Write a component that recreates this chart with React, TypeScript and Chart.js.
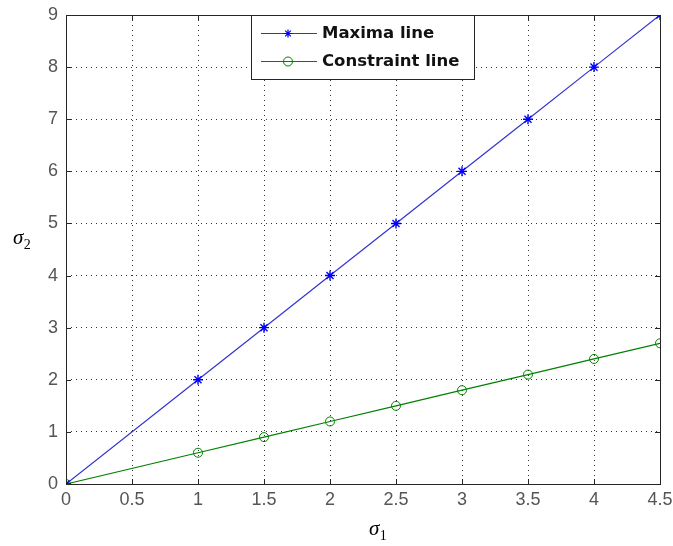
import React, { useEffect, useRef } from "react";
import { Chart, registerables } from "chart.js";

Chart.register(...registerables);

const xValues = [0, 1, 1.5, 2, 2.5, 3, 3.5, 4, 4.5];
const maximaValues = [0, 2, 3, 4, 5, 6, 7, 8, 9];
const constraintValues = [0, 0.6, 0.9, 1.2, 1.5, 1.8, 2.1, 2.4, 2.7];
const legendLabels = ["Maxima line", "Constraint line"];
const xTitle = { main: "σ", sub: "1" };
const yTitle = { main: "σ", sub: "2" };

const BLUE_LINE = "#3434d0";
const BLUE_MARK = "#0000ff";
const GREEN = "#008000";
const AXIS = "#262626";
const TICK_COLOR = "#555555";

function drawStar(ctx: CanvasRenderingContext2D, x: number, y: number, r: number, color: string) {
  ctx.save();
  ctx.strokeStyle = color;
  ctx.lineWidth = 1.2;
  ctx.beginPath();
  ctx.moveTo(x - r, y); ctx.lineTo(x + r, y);
  ctx.moveTo(x, y - r); ctx.lineTo(x, y + r);
  const d = r * 0.707;
  ctx.moveTo(x - d, y - d); ctx.lineTo(x + d, y + d);
  ctx.moveTo(x - d, y + d); ctx.lineTo(x + d, y - d);
  ctx.stroke();
  ctx.restore();
}

const decorPlugin = {
  id: "decor",
  afterDraw(chart: any) {
    const ctx: CanvasRenderingContext2D = chart.ctx;
    const { left, right, top, bottom } = chart.chartArea;
    const xs = chart.scales.x;
    const ys = chart.scales.y;
    ctx.save();
    ctx.strokeStyle = AXIS;
    ctx.lineWidth = 1;
    ctx.strokeRect(Math.round(left) + 0.5, Math.round(top) + 0.5, Math.round(right - left), Math.round(bottom - top));
    ctx.beginPath();
    xs.ticks.forEach((t: any) => {
      const px = Math.round(xs.getPixelForValue(t.value)) + 0.5;
      ctx.moveTo(px, bottom); ctx.lineTo(px, bottom - 5);
      ctx.moveTo(px, top); ctx.lineTo(px, top + 5);
    });
    ys.ticks.forEach((t: any) => {
      const py = Math.round(ys.getPixelForValue(t.value)) + 0.5;
      ctx.moveTo(left, py); ctx.lineTo(left + 5, py);
      ctx.moveTo(right, py); ctx.lineTo(right - 5, py);
    });
    ctx.stroke();

    // legend
    const lx = 251.5, ly = Math.round(top) + 0.5, lw = 223, lh = 64;
    ctx.fillStyle = "#ffffff";
    ctx.fillRect(lx, ly, lw, lh);
    ctx.strokeStyle = AXIS;
    ctx.strokeRect(lx, ly, lw, lh);
    const rows = [
      { y: ly + 18, color: BLUE_LINE, mark: "star" },
      { y: ly + 46, color: GREEN, mark: "circle" },
    ];
    rows.forEach((r, i) => {
      ctx.strokeStyle = r.color;
      ctx.lineWidth = 1.2;
      ctx.beginPath();
      ctx.moveTo(261, r.y); ctx.lineTo(317, r.y);
      ctx.stroke();
      if (r.mark === "star") {
        drawStar(ctx, 288, r.y, 4, BLUE_MARK);
      } else {
        ctx.beginPath();
        ctx.arc(288, r.y, 4.5, 0, Math.PI * 2);
        ctx.strokeStyle = GREEN;
        ctx.lineWidth = 1;
        ctx.stroke();
      }
      ctx.fillStyle = "#111111";
      ctx.font = "bold 16.5px 'DejaVu Sans'";
      ctx.textAlign = "left";
      ctx.textBaseline = "middle";
      ctx.fillText(legendLabels[i], 322, r.y);
    });

    const drawTitle = (t: { main: string; sub: string }, x: number, y: number) => {
      ctx.fillStyle = "#000000";
      ctx.textAlign = "left";
      ctx.textBaseline = "alphabetic";
      ctx.font = "italic 21px 'Liberation Serif'";
      ctx.fillText(t.main, x, y);
      const w = ctx.measureText(t.main).width;
      ctx.font = "14px 'Liberation Serif'";
      ctx.fillText(t.sub, x + w + 0.5, y + 5);
    };
    drawTitle(xTitle, 369, 535);
    drawTitle(yTitle, 13, 244);
    ctx.restore();
  },
};

const fmt = (v: any) => String(Number(v));

export default function App() {
  const ref = useRef<HTMLCanvasElement | null>(null);
  useEffect(() => {
    document.body.style.margin = "0";
    const canvas = ref.current!;
    const chart = new Chart(canvas, {
      type: "line",
      data: {
        datasets: [
          {
            label: legendLabels[0],
            data: xValues.map((x, i) => ({ x, y: maximaValues[i] })),
            borderColor: BLUE_LINE,
            borderWidth: 1.2,
            pointStyle: "star",
            pointRadius: 5,
            pointBorderColor: BLUE_MARK,
            pointBorderWidth: 1.4,
            pointBackgroundColor: BLUE_MARK,
            tension: 0,
          },
          {
            label: legendLabels[1],
            data: xValues.map((x, i) => ({ x, y: constraintValues[i] })),
            borderColor: GREEN,
            borderWidth: 1.2,
            pointStyle: "circle",
            pointRadius: 4.5,
            pointBorderColor: GREEN,
            pointBorderWidth: 1,
            pointBackgroundColor: "rgba(0,0,0,0)",
            tension: 0,
          },
        ],
      },
      options: {
        responsive: false,
        animation: false,
        layout: { padding: { top: 15, right: 13, left: 0, bottom: 0 } },
        plugins: { legend: { display: false }, tooltip: { enabled: false } },
        scales: {
          x: {
            type: "linear",
            min: 0,
            max: 4.5,
            ticks: {
              stepSize: 0.5,
              color: TICK_COLOR,
              font: { family: "'Liberation Sans'", size: 18 },
              padding: 5,
              maxRotation: 0,
              callback: fmt,
            },
            grid: { color: "#333333", lineWidth: 1, drawTicks: false },
            border: { display: false, dash: [1, 4] },
            afterFit: (s: any) => {
              s.height = 62;
              s.paddingLeft = 0;
              s.paddingRight = 0;
            },
          },
          y: {
            type: "linear",
            min: 0,
            max: 9,
            ticks: {
              stepSize: 1,
              color: TICK_COLOR,
              font: { family: "'Liberation Sans'", size: 18 },
              padding: 8,
              callback: fmt,
            },
            grid: { color: "#333333", lineWidth: 1, drawTicks: false },
            border: { display: false, dash: [1, 4] },
            afterFit: (s: any) => {
              s.width = 66;
              s.paddingTop = 0;
              s.paddingBottom = 0;
            },
          },
        },
      },
      plugins: [decorPlugin],
    });
    return () => chart.destroy();
  }, []);
  return (
    <div style={{ width: 673, height: 546 }}>
      <canvas ref={ref} width={673} height={546} />
    </div>
  );
}
